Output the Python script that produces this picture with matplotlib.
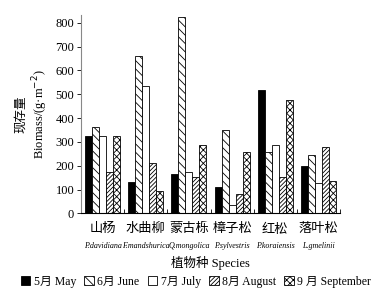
import numpy as np
import matplotlib
matplotlib.use('Agg')
import matplotlib.pyplot as plt

plt.rcParams['font.family'] = ['Liberation Serif', 'Noto Sans CJK SC']
plt.rcParams['hatch.linewidth'] = 0.6
plt.rcParams['axes.unicode_minus'] = False

species_cn = ['山杨', '水曲柳', '蒙古栎', '樟子松', '红松', '落叶松']
species_lat = ['P.davidiana', 'F.mandshurica', 'Q.mongolica', 'P.sylvestris', 'P.koraiensis', 'L.gmelinii']
months = ['5月 May', '6月 June', '7月 July', '8月 August', '9 月 September']

may = [325, 130, 164, 110, 517, 197]
june = [363, 659, 823, 352, 256, 243]
july = [323, 533, 172, 34, 285, 128]
august = [172, 212, 154, 81, 151, 278]
september = [325, 95, 285, 256, 474, 134]

series = [may, june, july, august, september]
faces = ['black', 'white', 'white', 'white', 'white']
hatches = [None, '\\\\\\\\', None, '////////', 'xxxxx']

fig = plt.figure(figsize=(3.92, 2.96), dpi=100)
ax = fig.add_axes([0.207, 0.279, 0.66, 0.67])

x = np.arange(len(species_cn))
w = 0.162
for i, vals in enumerate(series):
    ax.bar(x + (i - 2) * w, vals, w, color=faces[i], edgecolor='black',
           hatch=hatches[i], linewidth=0.6, label=months[i])

ax.set_xlim(-0.5, 5.5)
ax.set_ylim(0, 832)
ax.set_yticks(range(0, 801, 100))
ax.tick_params(axis='y', labelsize=9, length=3, width=0.6, pad=2)
ax.set_xticks(x)
ax.set_xticklabels(['' for _ in x])
ax.tick_params(axis='x', length=0)
ax.set_xticks(np.arange(0.5, 5.6, 1), minor=True)
ax.tick_params(axis='x', which='minor', direction='in', length=3, width=0.6)
for s in ['top', 'right']:
    ax.spines[s].set_visible(False)
ax.spines['left'].set_color('#888888')
ax.spines['left'].set_linewidth(0.8)
ax.spines['bottom'].set_linewidth(0.8)

for i in range(len(x)):
    ax.text(x[i], -0.05, species_cn[i], transform=ax.get_xaxis_transform(),
            ha='center', va='top', fontsize=9.5)
    ax.text(x[i], -0.145, species_lat[i], transform=ax.get_xaxis_transform(),
            ha='center', va='top', fontsize=5.8, style='italic')

ax.text(0.5, -0.215, '植物种 Species', transform=ax.transAxes,
        ha='center', va='top', fontsize=9)
ax.set_ylabel('现存量\nBiomass/(g·m$^{-2}$)', fontsize=9, labelpad=4, linespacing=1.2)

fig.legend(loc='lower center', bbox_to_anchor=(0.5, 0.0), ncol=5, frameon=False,
           fontsize=8.5, handlelength=0.8, handleheight=0.8, handletextpad=0.3,
           columnspacing=0.7, borderaxespad=0.3)

fig.savefig('out.png', dpi=100)
